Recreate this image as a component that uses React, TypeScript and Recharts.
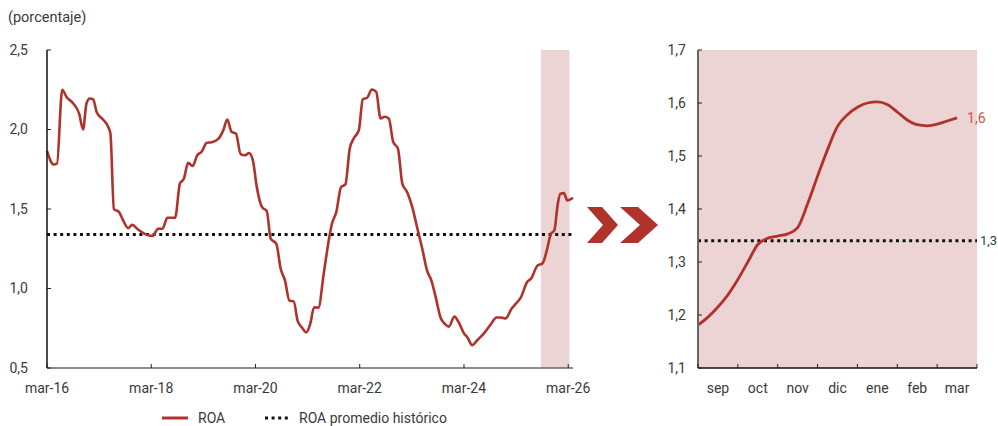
import React from 'react';
import { LineChart, Line, XAxis, YAxis, ReferenceLine, ReferenceArea } from 'recharts';

const FONT = 'Roboto, "Noto Sans", sans-serif';
const RED = '#B0322A';
const LABEL_RED = '#C9544C';
const SHADE = '#ECD4D4';
const INK = '#3a3a3a';

// ROA (%), positions in months counted from March 2016
const roaMonths = [
  0, 1.5, 2.3, 3.5, 4.5, 6, 7.4, 8.3, 9.1, 9.85, 10.6, 11.5, 12.9, 14.1, 14.6, 15.4, 16.6,
  17.5, 18.7, 19.6, 21, 22.5, 24.3, 25.6, 26.6, 27.7, 29.5, 30.6, 31.5, 32.5, 33.5, 34.6,
  35.6, 36.8, 37.9, 39.5, 40.6, 41.5, 42.5, 43.5, 44.6, 45.6, 46.5, 47.4, 48.3, 49.5, 50.6,
  51.5, 52.8, 53.8, 54.8, 55.8, 56.8, 57.7, 58.7, 59.7, 60.6, 61.5, 62.5, 63.7, 64.8, 65.6,
  66.6, 67.7, 68.7, 69.7, 70.6, 71.8, 72.7, 73.7, 74.8, 75.8, 76.8, 77.7, 78.7, 79.7, 80.8,
  81.8, 82.9, 84.1, 85.2, 86.4, 87.5, 88.5, 89.5, 90.6, 91.6, 92.5, 93.8, 94.8, 96, 96.8,
  97.9, 99.1, 100.6, 102.1, 103.5, 104.5, 105.6, 106.9, 107.9, 109.1, 110.5, 111.5, 112.9,
  114.1, 115.1, 116, 116.8, 117.6, 118.2, 119, 119.8, 120.3, 121.1,
];
const roaValues = [
  1.865, 1.78, 1.785, 2.25, 2.205, 2.165, 2.1, 2.0, 2.165, 2.195, 2.19, 2.105, 2.063, 2.016,
  1.975, 1.5, 1.48, 1.43, 1.38, 1.4, 1.37, 1.344, 1.33, 1.376, 1.376, 1.445, 1.445, 1.66,
  1.69, 1.79, 1.77, 1.838, 1.86, 1.916, 1.92, 1.943, 1.996, 2.063, 1.985, 1.975, 1.844,
  1.838, 1.852, 1.806, 1.638, 1.512, 1.487, 1.313, 1.281, 1.124, 1.05, 0.924, 0.919, 0.797,
  0.755, 0.724, 0.777, 0.882, 0.88, 1.092, 1.291, 1.407, 1.48, 1.638, 1.655, 1.88, 1.943,
  1.996, 2.19, 2.2, 2.252, 2.237, 2.069, 2.08, 2.069, 1.922, 1.88, 1.66, 1.607, 1.512, 1.386,
  1.25, 1.113, 1.05, 0.944, 0.818, 0.777, 0.76, 0.823, 0.787, 0.718, 0.692, 0.644, 0.676,
  0.718, 0.772, 0.818, 0.818, 0.812, 0.871, 0.903, 0.944, 1.039, 1.064, 1.144, 1.159, 1.243,
  1.344, 1.365, 1.533, 1.596, 1.6, 1.554, 1.558, 1.571,
];
const historicalAverage = 1.34;

const mainXTicks = [0, 24, 48, 72, 96, 120];
const mainXTickLabels = ['mar-16', 'mar-18', 'mar-20', 'mar-22', 'mar-24', 'mar-26'];
const mainYTicks = [0.5, 1.0, 1.5, 2.0, 2.5];
const highlightStart = 113.7;
const highlightEnd = 120.3;

// Detail of the last months, positions in months counted from 1 September 2025
const detailMonths = [
  0, 0.25, 0.5, 0.75, 1, 1.25, 1.5, 1.75, 2, 2.25, 2.5, 2.75, 3, 3.25, 3.5, 3.75, 4, 4.25,
  4.5, 4.75, 5, 5.25, 5.5, 5.75, 6, 6.25, 6.5,
];
const detailValues = [
  1.181, 1.196, 1.215, 1.238, 1.267, 1.3, 1.333, 1.345, 1.349, 1.353, 1.365, 1.41, 1.462,
  1.512, 1.556, 1.578, 1.592, 1.6, 1.602, 1.597, 1.583, 1.568, 1.559, 1.557, 1.56, 1.566,
  1.572,
];
const detailMonthLabels = ['sep', 'oct', 'nov', 'dic', 'ene', 'feb', 'mar'];
const detailXTicks = [0, 1, 2, 3, 4, 5, 6, 7];
const detailYTicks = [1.1, 1.2, 1.3, 1.4, 1.5, 1.6, 1.7];

const legendItems = [
  { name: 'ROA', kind: 'solid' },
  { name: 'ROA promedio histórico', kind: 'dotted' },
];

const fmt = (v: number) => v.toFixed(1).replace('.', ',');

const mainData = roaMonths.map((m, i) => ({ m, roa: roaValues[i] }));
const detailData = detailMonths.map((m, i) => ({ m, roa: detailValues[i] }));

const MAIN_W = 600;
const MAIN_H = 400;
const DETAIL_W = 358;
const DETAIL_H = 400;
const DETAIL_PLOT_W = 279;

const makeYTick = (gap: number) => (props: any) => {
  const { x, y, payload } = props;
  return (
    <g>
      <line x1={x} x2={x + 4} y1={y} y2={y} stroke="#222" strokeWidth={1} />
      <text x={x - gap} y={y} dy="0.35em" textAnchor="end" fill={INK} fontSize={14} fontFamily={FONT}>
        {fmt(payload.value)}
      </text>
    </g>
  );
};

const MainXTick = (props: any) => {
  const { x, y, payload } = props;
  const label = mainXTickLabels[mainXTicks.indexOf(payload.value)];
  return (
    <g>
      <line x1={x} x2={x} y1={y} y2={y - 4} stroke="#222" strokeWidth={1} />
      <text x={x} y={y + 24.5} textAnchor="middle" fill={INK} fontSize={14} fontFamily={FONT}>
        {label}
      </text>
    </g>
  );
};

const DetailXTick = (props: any) => {
  const { x, y, payload } = props;
  const idx = detailXTicks.indexOf(payload.value);
  const half = DETAIL_PLOT_W / 7 / 2;
  return (
    <g>
      <line x1={x} x2={x} y1={y} y2={y - 4} stroke="#222" strokeWidth={1} />
      {idx < detailMonthLabels.length && (
        <text x={x + half} y={y + 24.5} textAnchor="middle" fill={INK} fontSize={14} fontFamily={FONT}>
          {detailMonthLabels[idx]}
        </text>
      )}
    </g>
  );
};

const EndLabel = (props: any) => {
  const { x, y, index, value } = props;
  if (index !== detailData.length - 1) return null;
  return (
    <text x={x + 10} y={y} dy="0.35em" fill={LABEL_RED} fontSize={14} fontFamily={FONT}>
      {fmt(value)}
    </text>
  );
};

export default function App() {
  return (
    <div
      style={{
        position: 'absolute',
        left: 0,
        top: 0,
        width: 998,
        height: 426,
        background: '#fff',
        fontFamily: FONT,
        overflow: 'hidden',
      }}
    >
      <div style={{ position: 'absolute', left: 0, top: 0 }}>
        <LineChart width={MAIN_W} height={MAIN_H} data={mainData} margin={{ top: 50, right: 27, bottom: 0, left: 0 }}>
          <ReferenceArea x1={highlightStart} x2={highlightEnd} y1={0.5} y2={2.5} fill={SHADE} fillOpacity={1} stroke="none" ifOverflow="visible" />
          <XAxis
            dataKey="m"
            type="number"
            domain={[0, 121.1]}
            ticks={mainXTicks}
            interval={0}
            height={32}
            tickSize={0}
            tickMargin={0}
            tickLine={false}
            axisLine={{ stroke: '#666', strokeWidth: 1.5 }}
            tick={MainXTick}
          />
          <YAxis
            type="number"
            domain={[0.5, 2.5]}
            ticks={mainYTicks}
            interval={0}
            width={47}
            tickSize={0}
            tickMargin={0}
            tickLine={false}
            axisLine={{ stroke: '#111', strokeWidth: 1.5 }}
            tick={makeYTick(19)}
          />
          <ReferenceLine y={historicalAverage} stroke="#111" strokeWidth={3} strokeDasharray="3 3.6" />
          <Line
            dataKey="roa"
            type="monotone"
            stroke={RED}
            strokeWidth={2.6}
            dot={false}
            isAnimationActive={false}
          />
        </LineChart>
      </div>

      <div style={{ position: 'absolute', left: 640, top: 0 }}>
        <LineChart width={DETAIL_W} height={DETAIL_H} data={detailData} margin={{ top: 50, right: 21, bottom: 0, left: 0 }}>
          <ReferenceArea x1={0} x2={7} y1={1.1} y2={1.7} fill={SHADE} fillOpacity={1} stroke="none" />
          <XAxis
            dataKey="m"
            type="number"
            domain={[0, 7]}
            ticks={detailXTicks}
            interval={0}
            height={32}
            tickSize={0}
            tickMargin={0}
            tickLine={false}
            axisLine={{ stroke: '#111', strokeWidth: 1.5 }}
            tick={DetailXTick}
          />
          <YAxis
            type="number"
            domain={[1.1, 1.7]}
            ticks={detailYTicks}
            interval={0}
            width={58}
            tickSize={0}
            tickMargin={0}
            tickLine={false}
            axisLine={{ stroke: '#666', strokeWidth: 2 }}
            tick={makeYTick(12)}
          />
          <ReferenceLine
            y={historicalAverage}
            stroke="#111"
            strokeWidth={3}
            strokeDasharray="3 3.6"
            label={{ value: fmt(historicalAverage), position: 'right', offset: 3, fill: INK, fontSize: 13, fontFamily: FONT }}
          />
          <Line
            dataKey="roa"
            type="monotone"
            stroke={RED}
            strokeWidth={2.8}
            dot={false}
            isAnimationActive={false}
            label={EndLabel}
          />
        </LineChart>
      </div>

      <svg width={998} height={426} style={{ position: 'absolute', left: 0, top: 0, pointerEvents: 'none' }}>
        <text x={8} y={22} fill={INK} fontSize={14.5} fontFamily={FONT}>
          (porcentaje)
        </text>
        <polygon points="587,207 602,207 618,225 602,243 587,243 603,225" fill={RED} />
        <polygon points="620,207 638,207 658,225 638,243 620,243 640,225" fill={RED} />
        {legendItems.map((item, i) => {
          const x0 = i === 0 ? 162 : 265;
          return (
            <g key={item.name}>
              {item.kind === 'solid' ? (
                <line x1={x0} x2={x0 + 26} y1={418} y2={418} stroke={RED} strokeWidth={3} />
              ) : (
                <line x1={x0} x2={x0 + 24} y1={418} y2={418} stroke="#111" strokeWidth={3} strokeDasharray="3 3.6" />
              )}
              <text x={x0 + (i === 0 ? 36 : 34)} y={423} fill={INK} fontSize={14} fontFamily={FONT}>
                {item.name}
              </text>
            </g>
          );
        })}
      </svg>
    </div>
  );
}
